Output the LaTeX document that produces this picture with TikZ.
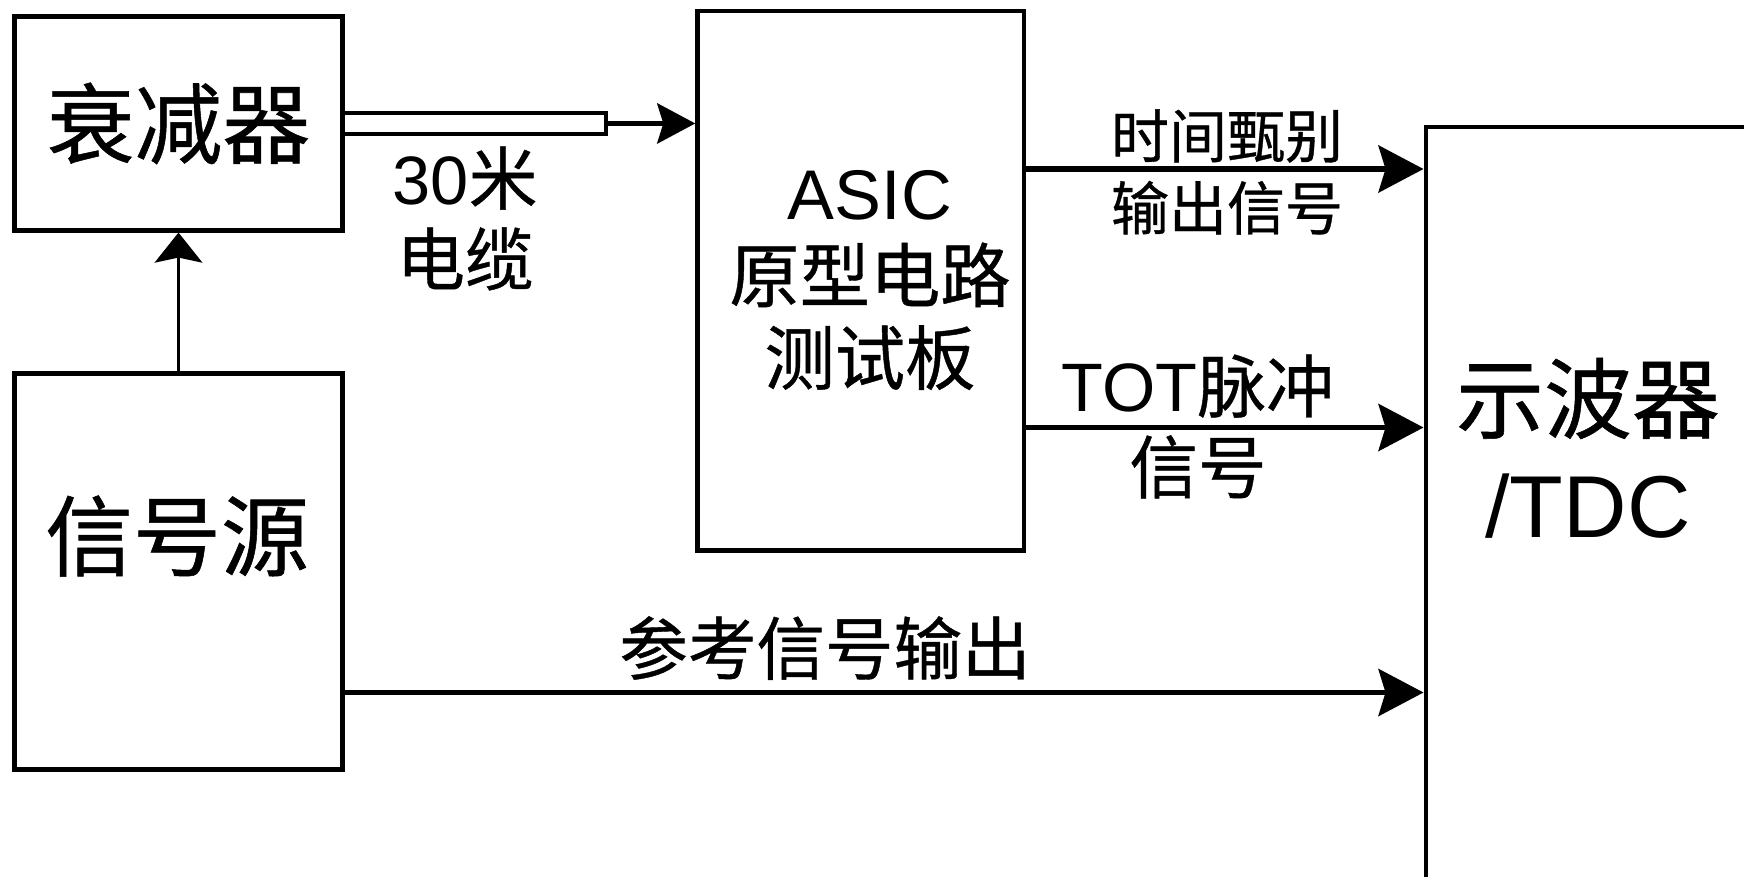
\documentclass[tikz,border=0pt]{standalone}
\usepackage{fontspec}
\setmainfont{Liberation Sans}
\newfontfamily\cjkfam{Noto Sans CJK SC}[BoldFont={Noto Sans CJK SC}, BoldFeatures={FakeBold=0.6}]
\newcommand{\cjk}{\cjkfam\bfseries}
\usetikzlibrary{arrows.meta}
\begin{document}
\begin{tikzpicture}[
  box/.style={draw=black, line width=2.7pt, inner sep=0pt, fill=none},
  arr/.style={line width=3pt, -{Stealth[length=0.9cm, width=0.94cm, inset=0.14cm]}},
  lbl/.style={inner sep=0pt, align=center},
]
\useasboundingbox (0,0) rectangle (34.88,-17.52);
\clip (0,0) rectangle (34.88,-17.52);
% boxes
\node[box, minimum width=6.56cm, minimum height=4.27cm, font=\cjk\fontsize{50}{60}\selectfont] (att) at (3.57,-2.469) {衰减器};
\node[box, minimum width=6.56cm, minimum height=7.92cm] (sig) at (3.57,-11.434) {};
\node[lbl, font=\cjk\fontsize{50}{60}\selectfont] (sigt) at (3.54,-10.72) {信号源};
\node[box, line width=2.4pt, minimum width=6.538cm, minimum height=10.788cm] (asic) at (17.217,-5.616) {};
\node[lbl, font=\fontsize{40}{47}\selectfont] (asict) at (17.40,-5.60) {ASIC\\{\cjk 原型电路}\\{\cjk 测试板}};
\node[box, line width=2.4pt, anchor=north west, minimum width=10cm, minimum height=20cm] (scope) at (28.47,-2.49) {};
\node[lbl, font=\fontsize{50}{60}\selectfont] (scopet) at (31.76,-8.96) {{\cjk 示波器}\\/TDC};
% labels
\node[lbl, font=\fontsize{39}{46}\selectfont] (cablel) at (9.30,-4.37) {30{\cjk 米}\\{\cjk 电缆}};
\node[lbl, font=\cjk\fontsize{33}{41}\selectfont] (l1) at (24.54,-3.44) {时间甄别\\输出信号};
\node[lbl, font=\fontsize{39}{46}\selectfont] (l2) at (23.96,-8.53) {TOT{\cjk 脉冲}\\{\cjk 信号}};
\node[lbl, font=\cjk\fontsize{39}{46}\selectfont] (l3) at (16.5,-12.96) {参考信号输出};
% cable
\coordinate (cend) at (12.12,-2.469);
\draw[line width=2.2pt, line join=miter] (att.east |- 0,-2.255) -- (12.12,-2.255) -- (12.12,-2.685) -- (att.east |- 0,-2.685);
\draw[line width=3pt, -{Stealth[length=0.76cm, width=0.8cm, inset=0.12cm]}] (cend) -- (asic.west |- cend);
% arrows
\draw[line width=2pt, -{Stealth[length=0.6cm, width=0.95cm, inset=0.1cm]}] (sig.north) -- (att.south);
\draw[arr] (asic.east |- 0,-3.38) -- (scope.west |- 0,-3.38);
\draw[arr] (asic.east |- 0,-8.55) -- (scope.west |- 0,-8.55);
\draw[arr] (sig.east |- 0,-13.85) -- (scope.west |- 0,-13.85);
\end{tikzpicture}
\end{document}
